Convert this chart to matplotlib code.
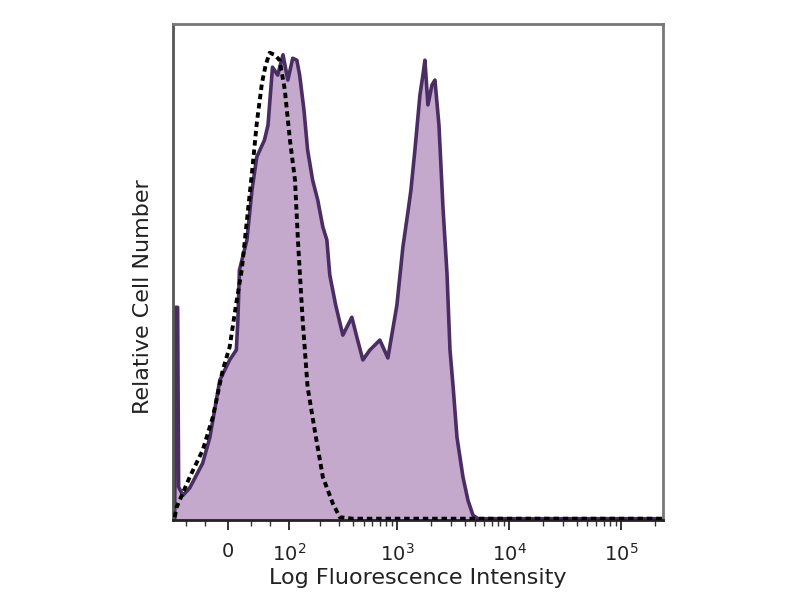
import numpy as np
import matplotlib
matplotlib.use("Agg")
import matplotlib.pyplot as plt

# ---- data (fluorescence intensity, relative count) ----
stained_x = [-81, -79, -75, -73, -65, -53, -33, -23, -10, 2.5, 11, 13, 15, 25, 32, 39, 51, 57,
             65, 75, 86, 97, 109, 120, 128, 141, 153, 171, 191, 213, 232, 247, 280, 325, 392,
             435, 493, 570, 700, 826, 994, 1125, 1248, 1327, 1441, 1598, 1699, 1770, 1883,
             2046, 2175, 2363, 2565, 2786, 2964, 3153, 3422, 3870, 4290, 4755, 5270, 10000,
             30000, 100000, 237000]
stained_y = [0, 42.9, 42.9, 6.7, 5.0, 6.5, 11.5, 16.7, 28.2, 32.3, 34.3, 40.3, 50.4, 56.5,
             66.5, 73.2, 76.6, 79.6, 91.3, 89.7, 93.8, 88.7, 93.1, 92.7, 89.7, 82.7, 74.6,
             68.5, 64.5, 59.1, 56.5, 49.4, 43.3, 37.3, 40.9, 36.9, 32.3, 34.3, 36.3, 32.7,
             43.3, 55.0, 62.1, 66.5, 74.6, 85.7, 89.7, 92.7, 83.7, 87.7, 88.7, 79.6, 63.1,
             49.8, 34.3, 27.2, 16.7, 8.7, 4.0, 1.0, 0.3, 0.3, 0.3, 0.3, 0.3]

control_x = [-81, -77, -53, -33, -19, -6.3, 2.5, 11, 18, 25, 32, 39, 47, 53, 60, 69, 79, 90,
             102, 115, 123, 128, 137, 153, 179, 213, 263, 305, 400, 1000, 10000, 100000, 237000]
control_y = [0.6, 2.6, 8.7, 14.1, 20.8, 30.2, 34.9, 43.8, 50.4, 60.5, 70.0, 80.0, 88.1, 91.7,
             94.2, 93.8, 92.7, 86.7, 76.6, 68.5, 56.5, 50.4, 40.3, 26.8, 18.1, 8.7, 3.4, 0.6,
             0.3, 0.3, 0.3, 0.3, 0.3]

major_ticks = [0, 1e2, 1e3, 1e4, 1e5]
major_labels = ["0", "$10^2$", "$10^3$", "$10^4$", "$10^5$"]
minor_ticks = ([-60, -30, 30, 60]
               + [m * 10 ** k for k in (2, 3, 4) for m in range(2, 10)]
               + [2e5])

W = 61.5
def fwd(x):
    return np.arcsinh(np.asarray(x, dtype=float) / W)
def inv(y):
    return W * np.sinh(np.asarray(y, dtype=float))

fig = plt.figure(figsize=(8, 6), dpi=100)
ax = fig.add_axes([0.216, 0.133, 0.613, 0.827])
ax.set_xscale("function", functions=(fwd, inv))

fill_col = "#c4a9cd"
line_col = "#4a2d62"
ax.fill_between(stained_x, stained_y, 0, color=fill_col, lw=0, zorder=1)
ax.plot(stained_x, stained_y, color=line_col, lw=2.6, zorder=2)
ax.plot(control_x, control_y, color="black", lw=2.8, ls=(0, (1.4, 1.0)), zorder=3)

ax.set_xlim(-85, 237000)
ax.set_ylim(0, 100)
ax.set_yticks([])
ax.set_xticks(major_ticks)
ax.set_xticklabels(major_labels, fontsize=14, color="#222")
ax.set_xticks(minor_ticks, minor=True)
ax.tick_params(axis="x", which="major", direction="out", length=7, width=1.3, pad=9, colors="#222")
ax.tick_params(axis="x", which="minor", direction="out", length=4, width=1.0, colors="#333")

for s in ("top", "right"):
    ax.spines[s].set_color("#777")
    ax.spines[s].set_linewidth(2)
ax.spines["left"].set_color("#555")
ax.spines["left"].set_linewidth(2)
ax.spines["bottom"].set_color("#222")
ax.spines["bottom"].set_linewidth(2)

ax.set_xlabel("Log Fluorescence Intensity", fontsize=16, color="#222", labelpad=3)
ax.set_ylabel("Relative Cell Number", fontsize=16, color="#222")
ax.yaxis.set_label_coords(-0.04, 0.45)

fig.savefig("out.png", dpi=100, facecolor="white")
